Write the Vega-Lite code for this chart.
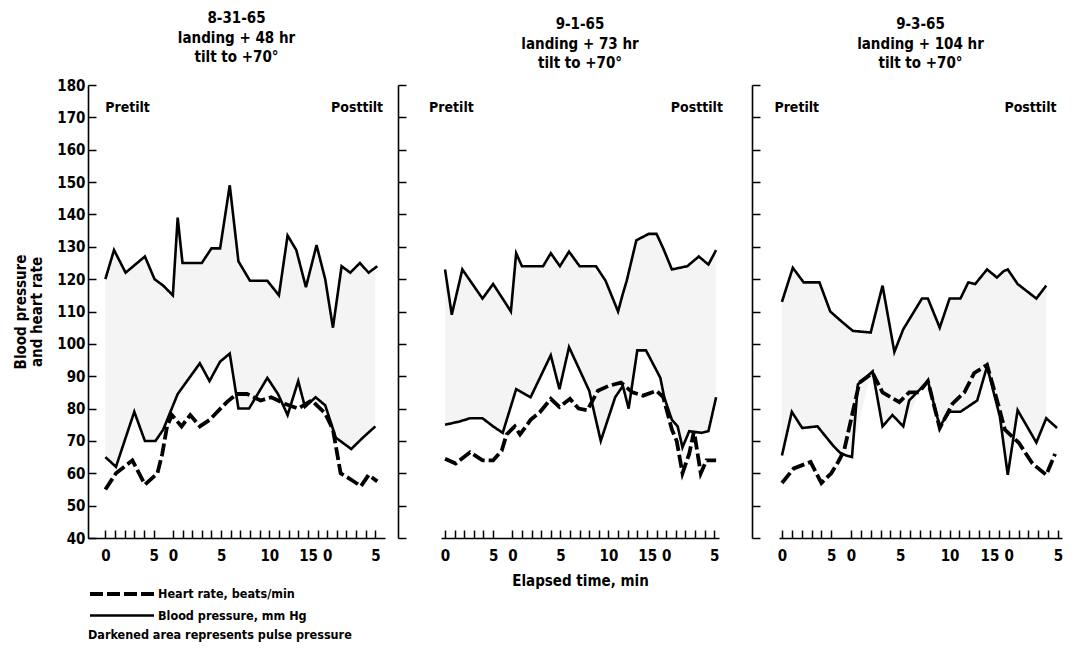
{
  "$schema": "https://vega.github.io/schema/vega-lite/v6.json",
  "background": "white",
  "padding": {"left": 13, "top": 11, "right": 5, "bottom": 2},
  "datasets": {
    "bp": [
      {"panel":1,"curve":"sys","measure":"BP","t":0,"v":120},{"panel":1,"curve":"sys","measure":"BP","t":0.9,"v":129},{"panel":1,"curve":"sys","measure":"BP","t":2.1,"v":122},{"panel":1,"curve":"sys","measure":"BP","t":4.1,"v":127},{"panel":1,"curve":"sys","measure":"BP","t":5.1,"v":120},{"panel":1,"curve":"sys","measure":"BP","t":6,"v":118},{"panel":1,"curve":"sys","measure":"BP","t":7,"v":115},{"panel":1,"curve":"sys","measure":"BP","t":7.5,"v":139},{"panel":1,"curve":"sys","measure":"BP","t":8,"v":125},{"panel":1,"curve":"sys","measure":"BP","t":10,"v":125},{"panel":1,"curve":"sys","measure":"BP","t":11,"v":129.5},{"panel":1,"curve":"sys","measure":"BP","t":11.9,"v":129.5},{"panel":1,"curve":"sys","measure":"BP","t":12.9,"v":149},{"panel":1,"curve":"sys","measure":"BP","t":13.8,"v":125.5},{"panel":1,"curve":"sys","measure":"BP","t":15,"v":119.5},{"panel":1,"curve":"sys","measure":"BP","t":16.8,"v":119.5},{"panel":1,"curve":"sys","measure":"BP","t":18,"v":115},{"panel":1,"curve":"sys","measure":"BP","t":18.9,"v":133.5},{"panel":1,"curve":"sys","measure":"BP","t":19.8,"v":129},{"panel":1,"curve":"sys","measure":"BP","t":20.8,"v":117.5},{"panel":1,"curve":"sys","measure":"BP","t":21.9,"v":130.5},{"panel":1,"curve":"sys","measure":"BP","t":22.8,"v":120},{"panel":1,"curve":"sys","measure":"BP","t":23.6,"v":105},{"panel":1,"curve":"sys","measure":"BP","t":24.5,"v":124},{"panel":1,"curve":"sys","measure":"BP","t":25.4,"v":122},{"panel":1,"curve":"sys","measure":"BP","t":26.4,"v":125},{"panel":1,"curve":"sys","measure":"BP","t":27.3,"v":122},{"panel":1,"curve":"sys","measure":"BP","t":28.2,"v":124},
      {"panel":1,"curve":"dia","measure":"BP","t":0,"v":65},{"panel":1,"curve":"dia","measure":"BP","t":1.1,"v":62},{"panel":1,"curve":"dia","measure":"BP","t":3,"v":79},{"panel":1,"curve":"dia","measure":"BP","t":4.1,"v":70},{"panel":1,"curve":"dia","measure":"BP","t":5.2,"v":70},{"panel":1,"curve":"dia","measure":"BP","t":6,"v":73.5},{"panel":1,"curve":"dia","measure":"BP","t":7.5,"v":84.5},{"panel":1,"curve":"dia","measure":"BP","t":9.8,"v":94},{"panel":1,"curve":"dia","measure":"BP","t":10.8,"v":88.5},{"panel":1,"curve":"dia","measure":"BP","t":11.9,"v":94.5},{"panel":1,"curve":"dia","measure":"BP","t":12.9,"v":97},{"panel":1,"curve":"dia","measure":"BP","t":13.8,"v":80},{"panel":1,"curve":"dia","measure":"BP","t":14.9,"v":80},{"panel":1,"curve":"dia","measure":"BP","t":16.8,"v":89.5},{"panel":1,"curve":"dia","measure":"BP","t":17.9,"v":84.5},{"panel":1,"curve":"dia","measure":"BP","t":18.9,"v":78},{"panel":1,"curve":"dia","measure":"BP","t":20,"v":88.5},{"panel":1,"curve":"dia","measure":"BP","t":20.7,"v":80.5},{"panel":1,"curve":"dia","measure":"BP","t":21.8,"v":83.5},{"panel":1,"curve":"dia","measure":"BP","t":22.8,"v":81},{"panel":1,"curve":"dia","measure":"BP","t":23.9,"v":71},{"panel":1,"curve":"dia","measure":"BP","t":25.5,"v":67.5},{"panel":1,"curve":"dia","measure":"BP","t":26.7,"v":71},{"panel":1,"curve":"dia","measure":"BP","t":28,"v":74.5},
      {"panel":1,"curve":"hr","measure":"HR","t":0,"v":55},{"panel":1,"curve":"hr","measure":"HR","t":1.1,"v":60},{"panel":1,"curve":"hr","measure":"HR","t":2.8,"v":64},{"panel":1,"curve":"hr","measure":"HR","t":4.1,"v":56.5},{"panel":1,"curve":"hr","measure":"HR","t":5.4,"v":60},{"panel":1,"curve":"hr","measure":"HR","t":5.9,"v":66},{"panel":1,"curve":"hr","measure":"HR","t":6.4,"v":74.5},{"panel":1,"curve":"hr","measure":"HR","t":6.9,"v":78},{"panel":1,"curve":"hr","measure":"HR","t":7.9,"v":74.5},{"panel":1,"curve":"hr","measure":"HR","t":8.8,"v":78},{"panel":1,"curve":"hr","measure":"HR","t":9.8,"v":74.5},{"panel":1,"curve":"hr","measure":"HR","t":10.8,"v":76.5},{"panel":1,"curve":"hr","measure":"HR","t":12.6,"v":82},{"panel":1,"curve":"hr","measure":"HR","t":13.6,"v":84.5},{"panel":1,"curve":"hr","measure":"HR","t":14.7,"v":84.5},{"panel":1,"curve":"hr","measure":"HR","t":16.1,"v":82.5},{"panel":1,"curve":"hr","measure":"HR","t":17.2,"v":83.5},{"panel":1,"curve":"hr","measure":"HR","t":18.6,"v":81.5},{"panel":1,"curve":"hr","measure":"HR","t":20,"v":80},{"panel":1,"curve":"hr","measure":"HR","t":21.4,"v":82.5},{"panel":1,"curve":"hr","measure":"HR","t":22.8,"v":78.5},{"panel":1,"curve":"hr","measure":"HR","t":23.6,"v":73.5},{"panel":1,"curve":"hr","measure":"HR","t":24.4,"v":60},{"panel":1,"curve":"hr","measure":"HR","t":25.5,"v":58},{"panel":1,"curve":"hr","measure":"HR","t":26.5,"v":56},{"panel":1,"curve":"hr","measure":"HR","t":27.3,"v":59.5},{"panel":1,"curve":"hr","measure":"HR","t":28.2,"v":57.5},
      {"panel":2,"curve":"sys","measure":"BP","t":0,"v":123},{"panel":2,"curve":"sys","measure":"BP","t":0.7,"v":109},{"panel":2,"curve":"sys","measure":"BP","t":1.8,"v":123},{"panel":2,"curve":"sys","measure":"BP","t":3.9,"v":114},{"panel":2,"curve":"sys","measure":"BP","t":5,"v":118.5},{"panel":2,"curve":"sys","measure":"BP","t":6.1,"v":113.5},{"panel":2,"curve":"sys","measure":"BP","t":6.85,"v":110},{"panel":2,"curve":"sys","measure":"BP","t":7.4,"v":128},{"panel":2,"curve":"sys","measure":"BP","t":8,"v":124},{"panel":2,"curve":"sys","measure":"BP","t":10.2,"v":124},{"panel":2,"curve":"sys","measure":"BP","t":11,"v":128},{"panel":2,"curve":"sys","measure":"BP","t":11.95,"v":124},{"panel":2,"curve":"sys","measure":"BP","t":12.9,"v":128.5},{"panel":2,"curve":"sys","measure":"BP","t":14,"v":124},{"panel":2,"curve":"sys","measure":"BP","t":15.7,"v":124},{"panel":2,"curve":"sys","measure":"BP","t":16.7,"v":119.5},{"panel":2,"curve":"sys","measure":"BP","t":18,"v":110},{"panel":2,"curve":"sys","measure":"BP","t":18.5,"v":115.5},{"panel":2,"curve":"sys","measure":"BP","t":18.9,"v":119.5},{"panel":2,"curve":"sys","measure":"BP","t":19.9,"v":132},{"panel":2,"curve":"sys","measure":"BP","t":21.2,"v":134},{"panel":2,"curve":"sys","measure":"BP","t":22,"v":134},{"panel":2,"curve":"sys","measure":"BP","t":22.7,"v":129.5},{"panel":2,"curve":"sys","measure":"BP","t":23.6,"v":123},{"panel":2,"curve":"sys","measure":"BP","t":25.2,"v":124},{"panel":2,"curve":"sys","measure":"BP","t":26.4,"v":127},{"panel":2,"curve":"sys","measure":"BP","t":27.4,"v":124.5},{"panel":2,"curve":"sys","measure":"BP","t":28.2,"v":129},
      {"panel":2,"curve":"dia","measure":"BP","t":0,"v":75},{"panel":2,"curve":"dia","measure":"BP","t":1.5,"v":76},{"panel":2,"curve":"dia","measure":"BP","t":2.6,"v":77},{"panel":2,"curve":"dia","measure":"BP","t":3.9,"v":77},{"panel":2,"curve":"dia","measure":"BP","t":5,"v":74.5},{"panel":2,"curve":"dia","measure":"BP","t":6,"v":72.5},{"panel":2,"curve":"dia","measure":"BP","t":7.4,"v":86},{"panel":2,"curve":"dia","measure":"BP","t":8.9,"v":83.5},{"panel":2,"curve":"dia","measure":"BP","t":11,"v":96.5},{"panel":2,"curve":"dia","measure":"BP","t":11.9,"v":86},{"panel":2,"curve":"dia","measure":"BP","t":12.9,"v":99},{"panel":2,"curve":"dia","measure":"BP","t":15,"v":85.5},{"panel":2,"curve":"dia","measure":"BP","t":16.2,"v":70},{"panel":2,"curve":"dia","measure":"BP","t":17.7,"v":83.5},{"panel":2,"curve":"dia","measure":"BP","t":18.5,"v":87},{"panel":2,"curve":"dia","measure":"BP","t":19.1,"v":80},{"panel":2,"curve":"dia","measure":"BP","t":20,"v":98},{"panel":2,"curve":"dia","measure":"BP","t":20.9,"v":98},{"panel":2,"curve":"dia","measure":"BP","t":22.4,"v":89.5},{"panel":2,"curve":"dia","measure":"BP","t":22.8,"v":83.5},{"panel":2,"curve":"dia","measure":"BP","t":23.6,"v":76.5},{"panel":2,"curve":"dia","measure":"BP","t":24.2,"v":74.5},{"panel":2,"curve":"dia","measure":"BP","t":24.7,"v":68},{"panel":2,"curve":"dia","measure":"BP","t":25.4,"v":73},{"panel":2,"curve":"dia","measure":"BP","t":26.7,"v":72.5},{"panel":2,"curve":"dia","measure":"BP","t":27.4,"v":73},{"panel":2,"curve":"dia","measure":"BP","t":28.2,"v":83.5},
      {"panel":2,"curve":"hr","measure":"HR","t":0,"v":64.5},{"panel":2,"curve":"hr","measure":"HR","t":1.1,"v":63},{"panel":2,"curve":"hr","measure":"HR","t":2.6,"v":66.5},{"panel":2,"curve":"hr","measure":"HR","t":3.9,"v":64},{"panel":2,"curve":"hr","measure":"HR","t":5,"v":64},{"panel":2,"curve":"hr","measure":"HR","t":5.9,"v":67},{"panel":2,"curve":"hr","measure":"HR","t":6.4,"v":72},{"panel":2,"curve":"hr","measure":"HR","t":7.25,"v":74.5},{"panel":2,"curve":"hr","measure":"HR","t":7.8,"v":72},{"panel":2,"curve":"hr","measure":"HR","t":8.9,"v":76.5},{"panel":2,"curve":"hr","measure":"HR","t":9.9,"v":79},{"panel":2,"curve":"hr","measure":"HR","t":11,"v":83},{"panel":2,"curve":"hr","measure":"HR","t":11.9,"v":80.5},{"panel":2,"curve":"hr","measure":"HR","t":13,"v":83},{"panel":2,"curve":"hr","measure":"HR","t":13.9,"v":80},{"panel":2,"curve":"hr","measure":"HR","t":14.8,"v":79.5},{"panel":2,"curve":"hr","measure":"HR","t":15.9,"v":85.5},{"panel":2,"curve":"hr","measure":"HR","t":17,"v":87},{"panel":2,"curve":"hr","measure":"HR","t":18.3,"v":88},{"panel":2,"curve":"hr","measure":"HR","t":19.5,"v":85},{"panel":2,"curve":"hr","measure":"HR","t":20.6,"v":84},{"panel":2,"curve":"hr","measure":"HR","t":22,"v":85.5},{"panel":2,"curve":"hr","measure":"HR","t":22.7,"v":83.5},{"panel":2,"curve":"hr","measure":"HR","t":23.6,"v":73.5},{"panel":2,"curve":"hr","measure":"HR","t":24.1,"v":70},{"panel":2,"curve":"hr","measure":"HR","t":24.7,"v":60},{"panel":2,"curve":"hr","measure":"HR","t":25.4,"v":66},{"panel":2,"curve":"hr","measure":"HR","t":25.9,"v":73},{"panel":2,"curve":"hr","measure":"HR","t":26.6,"v":60},{"panel":2,"curve":"hr","measure":"HR","t":27.2,"v":64},{"panel":2,"curve":"hr","measure":"HR","t":28.2,"v":64},
      {"panel":3,"curve":"sys","measure":"BP","t":0,"v":113},{"panel":3,"curve":"sys","measure":"BP","t":1.1,"v":123.5},{"panel":3,"curve":"sys","measure":"BP","t":2.2,"v":119},{"panel":3,"curve":"sys","measure":"BP","t":3.8,"v":119},{"panel":3,"curve":"sys","measure":"BP","t":4.9,"v":110},{"panel":3,"curve":"sys","measure":"BP","t":6.2,"v":106.5},{"panel":3,"curve":"sys","measure":"BP","t":7.2,"v":104},{"panel":3,"curve":"sys","measure":"BP","t":9,"v":103.5},{"panel":3,"curve":"sys","measure":"BP","t":10.2,"v":118},{"panel":3,"curve":"sys","measure":"BP","t":11.4,"v":97.5},{"panel":3,"curve":"sys","measure":"BP","t":12.3,"v":104.5},{"panel":3,"curve":"sys","measure":"BP","t":14.2,"v":114},{"panel":3,"curve":"sys","measure":"BP","t":14.8,"v":114},{"panel":3,"curve":"sys","measure":"BP","t":16,"v":105},{"panel":3,"curve":"sys","measure":"BP","t":17,"v":114},{"panel":3,"curve":"sys","measure":"BP","t":18.1,"v":114},{"panel":3,"curve":"sys","measure":"BP","t":18.9,"v":119},{"panel":3,"curve":"sys","measure":"BP","t":19.6,"v":118.5},{"panel":3,"curve":"sys","measure":"BP","t":20.8,"v":123},{"panel":3,"curve":"sys","measure":"BP","t":21.8,"v":120.5},{"panel":3,"curve":"sys","measure":"BP","t":22.5,"v":122.5},{"panel":3,"curve":"sys","measure":"BP","t":22.9,"v":123},{"panel":3,"curve":"sys","measure":"BP","t":23.9,"v":118.5},{"panel":3,"curve":"sys","measure":"BP","t":25.8,"v":114},{"panel":3,"curve":"sys","measure":"BP","t":26.8,"v":118},
      {"panel":3,"curve":"dia","measure":"BP","t":0,"v":65.5},{"panel":3,"curve":"dia","measure":"BP","t":1,"v":79},{"panel":3,"curve":"dia","measure":"BP","t":2.05,"v":74},{"panel":3,"curve":"dia","measure":"BP","t":3.6,"v":74.5},{"panel":3,"curve":"dia","measure":"BP","t":5.2,"v":68.5},{"panel":3,"curve":"dia","measure":"BP","t":6,"v":66},{"panel":3,"curve":"dia","measure":"BP","t":7.1,"v":65},{"panel":3,"curve":"dia","measure":"BP","t":7.7,"v":87.5},{"panel":3,"curve":"dia","measure":"BP","t":9.2,"v":91.5},{"panel":3,"curve":"dia","measure":"BP","t":10.2,"v":74.5},{"panel":3,"curve":"dia","measure":"BP","t":11.2,"v":78},{"panel":3,"curve":"dia","measure":"BP","t":12.3,"v":74.5},{"panel":3,"curve":"dia","measure":"BP","t":12.9,"v":82.5},{"panel":3,"curve":"dia","measure":"BP","t":14.8,"v":88.5},{"panel":3,"curve":"dia","measure":"BP","t":16,"v":74.5},{"panel":3,"curve":"dia","measure":"BP","t":17,"v":79},{"panel":3,"curve":"dia","measure":"BP","t":18.1,"v":79},{"panel":3,"curve":"dia","measure":"BP","t":19.8,"v":82.5},{"panel":3,"curve":"dia","measure":"BP","t":20.8,"v":93},{"panel":3,"curve":"dia","measure":"BP","t":22.1,"v":77.5},{"panel":3,"curve":"dia","measure":"BP","t":22.9,"v":59.5},{"panel":3,"curve":"dia","measure":"BP","t":23.9,"v":79.5},{"panel":3,"curve":"dia","measure":"BP","t":25.8,"v":69.5},{"panel":3,"curve":"dia","measure":"BP","t":26.8,"v":77},{"panel":3,"curve":"dia","measure":"BP","t":27.9,"v":74},
      {"panel":3,"curve":"hr","measure":"HR","t":0,"v":57},{"panel":3,"curve":"hr","measure":"HR","t":1.2,"v":61.5},{"panel":3,"curve":"hr","measure":"HR","t":2.9,"v":63.5},{"panel":3,"curve":"hr","measure":"HR","t":4,"v":57},{"panel":3,"curve":"hr","measure":"HR","t":5,"v":60},{"panel":3,"curve":"hr","measure":"HR","t":5.7,"v":63.5},{"panel":3,"curve":"hr","measure":"HR","t":6.3,"v":67},{"panel":3,"curve":"hr","measure":"HR","t":7.85,"v":88},{"panel":3,"curve":"hr","measure":"HR","t":9.2,"v":91},{"panel":3,"curve":"hr","measure":"HR","t":10.2,"v":85},{"panel":3,"curve":"hr","measure":"HR","t":11.9,"v":82},{"panel":3,"curve":"hr","measure":"HR","t":12.9,"v":85},{"panel":3,"curve":"hr","measure":"HR","t":13.9,"v":85},{"panel":3,"curve":"hr","measure":"HR","t":14.8,"v":88.5},{"panel":3,"curve":"hr","measure":"HR","t":16,"v":74},{"panel":3,"curve":"hr","measure":"HR","t":17.3,"v":81.5},{"panel":3,"curve":"hr","measure":"HR","t":18.5,"v":85},{"panel":3,"curve":"hr","measure":"HR","t":19.5,"v":91},{"panel":3,"curve":"hr","measure":"HR","t":20.8,"v":93.5},{"panel":3,"curve":"hr","measure":"HR","t":22,"v":80.5},{"panel":3,"curve":"hr","measure":"HR","t":22.6,"v":73.5},{"panel":3,"curve":"hr","measure":"HR","t":24,"v":69.5},{"panel":3,"curve":"hr","measure":"HR","t":25.4,"v":63},{"panel":3,"curve":"hr","measure":"HR","t":26.8,"v":59.5},{"panel":3,"curve":"hr","measure":"HR","t":27.7,"v":66}
    ],
    "pulse": [
      {"panel":1,"t":0,"sys":120,"dia":65},{"panel":1,"t":0.9,"sys":129,"dia":62.5},{"panel":1,"t":2.1,"sys":122,"dia":71},{"panel":1,"t":3,"sys":124.5,"dia":79},{"panel":1,"t":4.1,"sys":127,"dia":70},{"panel":1,"t":5.1,"sys":120,"dia":70},{"panel":1,"t":6,"sys":118,"dia":73.5},{"panel":1,"t":7,"sys":115,"dia":81},{"panel":1,"t":7.5,"sys":139,"dia":84.5},{"panel":1,"t":8,"sys":125,"dia":86.5},{"panel":1,"t":10,"sys":125,"dia":93},{"panel":1,"t":11,"sys":129.5,"dia":89.5},{"panel":1,"t":11.9,"sys":129.5,"dia":94.5},{"panel":1,"t":12.9,"sys":149,"dia":97},{"panel":1,"t":13.8,"sys":125.5,"dia":80},{"panel":1,"t":15,"sys":119.5,"dia":80.5},{"panel":1,"t":16.8,"sys":119.5,"dia":89.5},{"panel":1,"t":18,"sys":115,"dia":84},{"panel":1,"t":18.9,"sys":133.5,"dia":78},{"panel":1,"t":19.8,"sys":129,"dia":86.5},{"panel":1,"t":20.8,"sys":117.5,"dia":81},{"panel":1,"t":21.9,"sys":130.5,"dia":83.5},{"panel":1,"t":22.8,"sys":120,"dia":81},{"panel":1,"t":23.6,"sys":105,"dia":74},{"panel":1,"t":24.5,"sys":124,"dia":70},{"panel":1,"t":25.4,"sys":122,"dia":67.5},{"panel":1,"t":26.4,"sys":125,"dia":70},{"panel":1,"t":27.3,"sys":122,"dia":72.5},{"panel":1,"t":28,"sys":124,"dia":74.5},
      {"panel":2,"t":0,"sys":123,"dia":75},{"panel":2,"t":0.7,"sys":109,"dia":75.5},{"panel":2,"t":1.8,"sys":123,"dia":76.3},{"panel":2,"t":3.9,"sys":114,"dia":77},{"panel":2,"t":5,"sys":118.5,"dia":74.5},{"panel":2,"t":6.1,"sys":113.5,"dia":72.5},{"panel":2,"t":6.85,"sys":110,"dia":80},{"panel":2,"t":7.4,"sys":128,"dia":86},{"panel":2,"t":8,"sys":124,"dia":85},{"panel":2,"t":8.9,"sys":124,"dia":83.5},{"panel":2,"t":10.2,"sys":124,"dia":91},{"panel":2,"t":11,"sys":128,"dia":96.5},{"panel":2,"t":11.95,"sys":124,"dia":86},{"panel":2,"t":12.9,"sys":128.5,"dia":99},{"panel":2,"t":14,"sys":124,"dia":92},{"panel":2,"t":15,"sys":124,"dia":85.5},{"panel":2,"t":16.2,"sys":121,"dia":70},{"panel":2,"t":17.7,"sys":112,"dia":83.5},{"panel":2,"t":18.5,"sys":115.5,"dia":87},{"panel":2,"t":19.1,"sys":120.5,"dia":80},{"panel":2,"t":19.9,"sys":132,"dia":97},{"panel":2,"t":20.9,"sys":134,"dia":98},{"panel":2,"t":22,"sys":134,"dia":91.5},{"panel":2,"t":22.7,"sys":129.5,"dia":85},{"panel":2,"t":23.6,"sys":123,"dia":76.5},{"panel":2,"t":24.7,"sys":123.5,"dia":68},{"panel":2,"t":25.2,"sys":124,"dia":72},{"panel":2,"t":26.4,"sys":127,"dia":72.5},{"panel":2,"t":27.4,"sys":124.5,"dia":73},{"panel":2,"t":28.2,"sys":129,"dia":83.5},
      {"panel":3,"t":0,"sys":113,"dia":65.5},{"panel":3,"t":1.1,"sys":123.5,"dia":79},{"panel":3,"t":2.2,"sys":119,"dia":74},{"panel":3,"t":3.8,"sys":119,"dia":74},{"panel":3,"t":4.9,"sys":110,"dia":70},{"panel":3,"t":6.2,"sys":106.5,"dia":66},{"panel":3,"t":7.2,"sys":104,"dia":68},{"panel":3,"t":9,"sys":103.5,"dia":91},{"panel":3,"t":10.2,"sys":118,"dia":74.5},{"panel":3,"t":11.4,"sys":97.5,"dia":77.5},{"panel":3,"t":12.3,"sys":104.5,"dia":74.5},{"panel":3,"t":14.2,"sys":114,"dia":86.5},{"panel":3,"t":14.8,"sys":114,"dia":88.5},{"panel":3,"t":16,"sys":105,"dia":74.5},{"panel":3,"t":17,"sys":114,"dia":79},{"panel":3,"t":18.1,"sys":114,"dia":79},{"panel":3,"t":18.9,"sys":119,"dia":80.5},{"panel":3,"t":19.6,"sys":118.5,"dia":82},{"panel":3,"t":20.8,"sys":123,"dia":93},{"panel":3,"t":21.8,"sys":120.5,"dia":81},{"panel":3,"t":22.5,"sys":122.5,"dia":70},{"panel":3,"t":22.9,"sys":123,"dia":59.5},{"panel":3,"t":23.9,"sys":118.5,"dia":79.5},{"panel":3,"t":25.8,"sys":114,"dia":69.5},{"panel":3,"t":26.8,"sys":118,"dia":77}
    ],
    "events": [
      {"panel":1,"event":"tilt","t":6},{"panel":1,"event":"posttilt","t":22.7},
      {"panel":2,"event":"tilt","t":6.07},{"panel":2,"event":"posttilt","t":22.8},
      {"panel":3,"event":"tilt","t":6.24},{"panel":3,"event":"posttilt","t":22.5}
    ],
    "phases": [
      {"panel":1,"label":"Pretilt","t":2.3,"v":173},{"panel":1,"label":"Posttilt","t":26.1,"v":173},
      {"panel":2,"label":"Pretilt","t":0.66,"v":173},{"panel":2,"label":"Posttilt","t":26.2,"v":173},
      {"panel":3,"label":"Pretilt","t":1.5,"v":173},{"panel":3,"label":"Posttilt","t":25.2,"v":173}
    ]
  },
  "spacing": 12,
  "hconcat": [
    {
      "width": 297,
      "height": 453,
      "title": {"text": ["8-31-65", "landing + 48 hr", "tilt to +70°"]},
      "encoding": {
        "x": {"field": "t", "type": "quantitative",
          "scale": {"domain": [-1.8, 29.0], "nice": false, "zero": false},
          "axis": {"values": [0,1,2,3,4,5,7,8,9,10,11,12,13,14,15,16,17,18,19,20,21,22,23,24,25,26,27,28],
            "labelExpr": "datum.value == 0 ? '0' : datum.value == 5 ? '5' : datum.value == 7 ? '0' : datum.value == 12 ? '5' : datum.value == 17 ? '10' : datum.value == 22 ? '15' : datum.value == 23 ? '0' : datum.value == 28 ? '5' : ''",
            "labelAlign": {"condition": {"test": "datum.value == 22", "value": "right"}, "value": "center"},
            "title": null}},
        "y": {"field": "v", "type": "quantitative",
          "scale": {"domain": [40, 180], "nice": false, "zero": false},
          "axis": {"values": [40,50,60,70,80,90,100,110,120,130,140,150,160,170,180],
            "title": ["Blood pressure", "and heart rate"], "titlePadding": 12}}
      },
      "layer": [
        {"data": {"name": "pulse"}, "transform": [{"filter": "datum.panel == 1"}],
          "mark": {"type": "area", "fill": "#000", "fillOpacity": 0.045},
          "encoding": {"y": {"field": "sys", "type": "quantitative"}, "y2": {"field": "dia"}}},
        {"data": {"name": "events"}, "transform": [{"filter": "datum.panel == 1"}],
          "mark": {"type": "rule", "color": "#000", "strokeWidth": 1.3, "strokeDash": [16, 4, 3, 4]},
          "encoding": {"y": {"datum": 180}, "y2": {"datum": 40}}},
        {"data": {"name": "bp"}, "transform": [{"filter": "datum.panel == 1"}],
          "mark": {"type": "line", "color": "#000", "strokeJoin": "miter"},
          "encoding": {
            "detail": {"field": "curve"},
            "strokeDash": {"field": "measure", "type": "nominal", "scale": {"domain": ["HR", "BP"], "range": [[13, 4], [1, 0]]},
              "legend": {"orient": "bottom", "direction": "vertical", "offset": -4,
                "title": "Darkened area represents pulse pressure", "titleLimit": 500,
                "titleOrient": "bottom", "titleAnchor": "start", "titlePadding": 7,
                "labelExpr": "datum.value == 'HR' ? 'Heart rate, beats/min' : 'Blood pressure, mm Hg'",
                "symbolType": "M-1,0H7", "symbolSize": 256, "symbolStrokeWidth": 3,
                "labelOffset": 50, "rowPadding": 4}},
            "strokeWidth": {"field": "measure", "type": "nominal", "scale": {"domain": ["HR", "BP"], "range": [3.8, 2.6]}, "legend": null}}},
        {"data": {"name": "phases"}, "transform": [{"filter": "datum.panel == 1"}],
          "mark": {"type": "text", "fontSize": 14, "fontWeight": "bold"},
          "encoding": {"text": {"field": "label"}}}
      ]
    },
    {
      "spacing": 27,
      "hconcat": [
        {
          "width": 278,
          "height": 453,
          "title": {"text": ["9-1-65", "landing + 73 hr", "tilt to +70°"]},
          "encoding": {
            "x": {"field": "t", "type": "quantitative",
              "scale": {"domain": [-0.42, 28.5], "nice": false, "zero": false},
              "axis": {"values": [0,1,2,3,4,5,7,8,9,10,11,12,13,14,15,16,17,18,19,20,21,22,23,24,25,26,27,28],
                "labelExpr": "datum.value == 0 ? '0' : datum.value == 5 ? '5' : datum.value == 7 ? '0' : datum.value == 12 ? '5' : datum.value == 17 ? '10' : datum.value == 22 ? '15' : datum.value == 23 ? '0' : datum.value == 28 ? '5' : ''",
                "labelAlign": {"condition": {"test": "datum.value == 22", "value": "right"}, "value": "center"},
                "title": "Elapsed time, min"}},
            "y": {"field": "v", "type": "quantitative",
              "scale": {"domain": [40, 180], "nice": false, "zero": false},
              "axis": {"values": [40,50,60,70,80,90,100,110,120,130,140,150,160,170,180], "labels": false, "title": null, "offset": 43}}
          },
          "layer": [
            {"data": {"name": "pulse"}, "transform": [{"filter": "datum.panel == 2"}],
              "mark": {"type": "area", "fill": "#000", "fillOpacity": 0.045},
              "encoding": {"y": {"field": "sys", "type": "quantitative"}, "y2": {"field": "dia"}}},
            {"data": {"name": "events"}, "transform": [{"filter": "datum.panel == 2"}],
              "mark": {"type": "rule", "color": "#000", "strokeWidth": 1.3, "strokeDash": [16, 4, 3, 4]},
              "encoding": {"y": {"datum": 180}, "y2": {"datum": 40}}},
            {"data": {"name": "bp"}, "transform": [{"filter": "datum.panel == 2"}],
              "mark": {"type": "line", "color": "#000", "strokeJoin": "miter"},
              "encoding": {
                "detail": {"field": "curve"},
                "strokeDash": {"field": "measure", "type": "nominal"},
                "strokeWidth": {"field": "measure", "type": "nominal", "legend": null}}},
            {"data": {"name": "phases"}, "transform": [{"filter": "datum.panel == 2"}],
              "mark": {"type": "text", "fontSize": 14, "fontWeight": "bold"},
              "encoding": {"text": {"field": "label"}}}
          ]
        },
        {
          "width": 283,
          "height": 453,
          "title": {"text": ["9-3-65", "landing + 104 hr", "tilt to +70°"]},
          "encoding": {
            "x": {"field": "t", "type": "quantitative",
              "scale": {"domain": [-0.3, 28.4], "nice": false, "zero": false},
              "axis": {"values": [0,1,2,3,4,5,7,8,9,10,11,12,13,14,15,16,17,18,19,20,21,22,23,24,25,26,27,28],
                "labelExpr": "datum.value == 0 ? '0' : datum.value == 5 ? '5' : datum.value == 7 ? '0' : datum.value == 12 ? '5' : datum.value == 17 ? '10' : datum.value == 22 ? '15' : datum.value == 23 ? '0' : datum.value == 28 ? '5' : ''",
                "labelAlign": {"condition": {"test": "datum.value == 22", "value": "right"}, "value": "center"},
                "title": null}},
            "y": {"field": "v", "type": "quantitative",
              "scale": {"domain": [40, 180], "nice": false, "zero": false},
              "axis": {"values": [40,50,60,70,80,90,100,110,120,130,140,150,160,170,180], "labels": false, "title": null, "offset": 27}}
          },
          "layer": [
            {"data": {"name": "pulse"}, "transform": [{"filter": "datum.panel == 3"}],
              "mark": {"type": "area", "fill": "#000", "fillOpacity": 0.045},
              "encoding": {"y": {"field": "sys", "type": "quantitative"}, "y2": {"field": "dia"}}},
            {"data": {"name": "events"}, "transform": [{"filter": "datum.panel == 3"}],
              "mark": {"type": "rule", "color": "#000", "strokeWidth": 1.3, "strokeDash": [16, 4, 3, 4]},
              "encoding": {"y": {"datum": 180}, "y2": {"datum": 40}}},
            {"data": {"name": "bp"}, "transform": [{"filter": "datum.panel == 3"}],
              "mark": {"type": "line", "color": "#000", "strokeJoin": "miter"},
              "encoding": {
                "detail": {"field": "curve"},
                "strokeDash": {"field": "measure", "type": "nominal"},
                "strokeWidth": {"field": "measure", "type": "nominal", "legend": null}}},
            {"data": {"name": "phases"}, "transform": [{"filter": "datum.panel == 3"}],
              "mark": {"type": "text", "fontSize": 14, "fontWeight": "bold"},
              "encoding": {"text": {"field": "label"}}}
          ]
        }
      ]
    }
  ],
  "resolve": {"scale": {"strokeDash": "shared", "strokeWidth": "shared"}, "legend": {"strokeDash": "shared"}},
  "config": {
    "font": "DejaVu Sans Condensed, Liberation Sans Narrow, Roboto Condensed, Liberation Sans, sans-serif",
    "view": {"stroke": null},
    "text": {"font": "DejaVu Sans Condensed, Liberation Sans Narrow, Roboto Condensed, Liberation Sans, sans-serif"},
    "axis": {
      "grid": false,
      "domainColor": "#000", "domainWidth": 1.6,
      "tickColor": "#000", "tickWidth": 1.5, "tickSize": -8,
      "labelFont": "DejaVu Sans Condensed, Liberation Sans Narrow, Roboto Condensed, Liberation Sans, sans-serif",
      "labelFontSize": 15, "labelFontWeight": "bold", "labelColor": "#000",
      "labelPadding": 11, "labelFlush": false, "labelOverlap": false,
      "titleFont": "DejaVu Sans Condensed, Liberation Sans Narrow, Roboto Condensed, Liberation Sans, sans-serif",
      "titleFontSize": 15, "titleFontWeight": "bold", "titleColor": "#000", "titleLineHeight": 16
    },
    "axisX": {"labelPadding": 18, "titlePadding": 10},
    "title": {"font": "DejaVu Sans Condensed, Liberation Sans Narrow, Roboto Condensed, Liberation Sans, sans-serif", "fontSize": 15, "fontWeight": "bold", "color": "#000", "anchor": "middle", "frame": "group", "lineHeight": 19.5, "offset": 13},
    "legend": {
      "titleFont": "DejaVu Sans Condensed, Liberation Sans Narrow, Roboto Condensed, Liberation Sans, sans-serif",
      "titleFontSize": 12.5, "titleFontWeight": "bold", "titleColor": "#000",
      "labelFont": "DejaVu Sans Condensed, Liberation Sans Narrow, Roboto Condensed, Liberation Sans, sans-serif",
      "labelFontSize": 12.5, "labelFontWeight": "bold", "labelColor": "#000",
      "symbolStrokeColor": "#000"
    }
  }
}
